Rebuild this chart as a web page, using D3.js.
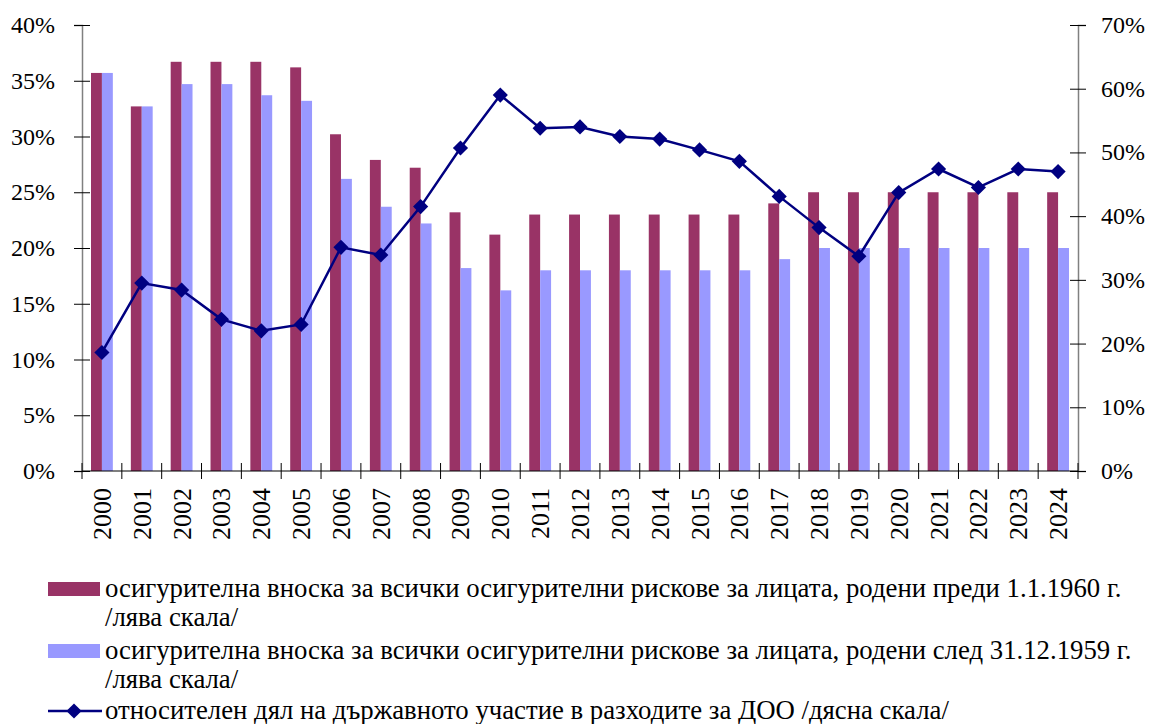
<!DOCTYPE html>
<html>
<head>
<meta charset="utf-8">
<script src="https://cdn.jsdelivr.net/npm/d3@7"></script>
</head>
<body style="margin:0">
<script>
// data (percent)
const years = ['2000','2001','2002','2003','2004','2005','2006','2007','2008','2009','2010','2011','2012',
  '2013','2014','2015','2016','2017','2018','2019','2020','2021','2022','2023','2024'];
const bornBefore1960 = [35.7, 32.7, 36.7, 36.7, 36.7, 36.2, 30.2, 27.9, 27.2, 23.2, 21.2, 23, 23,
  23, 23, 23, 23, 24, 25, 25, 25, 25, 25, 25, 25];
const bornAfter1959 = [35.7, 32.7, 34.7, 34.7, 33.7, 33.2, 26.2, 23.7, 22.2, 18.2, 16.2, 18, 18,
  18, 18, 18, 18, 19, 20, 20, 20, 20, 20, 20, 20];
const stateShare = [18.6, 29.5, 28.4, 23.8, 22.0, 23.0, 35.1, 33.9, 41.5, 50.7, 59.0, 53.8, 54.0,
  52.5, 52.1, 50.4, 48.6, 43.1, 38.2, 33.7, 43.7, 47.4, 44.5, 47.4, 47.0];
const leftTicks = [0, 5, 10, 15, 20, 25, 30, 35, 40];
const rightTicks = [0, 10, 20, 30, 40, 50, 60, 70];
const legendLabels = [
  ['осигурителна вноска за всички осигурителни рискове за лицата, родени преди 1.1.1960 г.', '/лява скала/'],
  ['осигурителна вноска за всички осигурителни рискове за лицата, родени след 31.12.1959 г.', '/лява скала/'],
  ['относителен дял на държавното участие в разходите за ДОО /дясна скала/']
];

const W = 1150, H = 724;
const plot = { left: 82, right: 1078, top: 25, bottom: 471 };
const colBefore = '#993366', colAfter = '#9999FF', colLine = '#000080';
const serifFont = () => '"Liberation Serif"';

const svg = d3.select('body').append('svg')
    .attr('width', W)
    .attr('height', H);

// scales
const x = d3.scaleBand().domain(years).range([plot.left, plot.right]);
const xInner = d3.scaleBand().domain(['before', 'after'])
    .range([9, x.bandwidth() - 9]);
const yLeft = d3.scaleLinear().domain([0, 40]).range([plot.bottom, plot.top]);
const yRight = d3.scaleLinear().domain([0, 70]).range([plot.bottom, plot.top]);

const rows = years.map((y, i) => ({ year: y, before: bornBefore1960[i], after: bornAfter1959[i], share: stateShare[i] }));

// bars
const barG = svg.append('g');
barG.selectAll('.bar-before')
  .data(rows)
  .join('rect')
    .attr('class', 'bar-before')
    .attr('x', d => x(d.year) + xInner('before'))
    .attr('width', xInner.bandwidth())
    .attr('y', d => yLeft(d.before))
    .attr('height', d => yLeft(0) - yLeft(d.before))
    .attr('fill', colBefore);
barG.selectAll('.bar-after')
  .data(rows)
  .join('rect')
    .attr('class', 'bar-after')
    .attr('x', d => x(d.year) + xInner('after'))
    .attr('width', xInner.bandwidth())
    .attr('y', d => yLeft(d.after))
    .attr('height', d => yLeft(0) - yLeft(d.after))
    .attr('fill', colAfter);

// axes: ticks drawn by d3, labels written as own texts
const pct = d => d + '%';

const leftAxis = svg.append('g')
    .attr('transform', `translate(${plot.left},0)`)
    .call(d3.axisLeft(yLeft).tickValues(leftTicks).tickFormat('').tickSize(8));
leftAxis.selectAll('.tick line').attr('x1', 8).attr('stroke', '#000');
leftAxis.select('.domain').attr('stroke', '#808080').attr('stroke-width', 1.5);

const rightAxis = svg.append('g')
    .attr('transform', `translate(${plot.right},0)`)
    .call(d3.axisRight(yRight).tickValues(rightTicks).tickFormat('').tickSize(8));
rightAxis.selectAll('.tick line').attr('x1', -8).attr('stroke', '#000');
rightAxis.select('.domain').attr('stroke', '#808080').attr('stroke-width', 1.5);

svg.selectAll('.ylabel-left')
  .data(leftTicks)
  .join('text')
    .attr('class', 'ylabel-left')
    .attr('x', plot.left - 27)
    .attr('y', d => yLeft(d) + 8)
    .attr('text-anchor', 'end')
    .attr('font-size', 24)
    .style('font-family', serifFont)
    .text(pct);

svg.selectAll('.ylabel-right')
  .data(rightTicks)
  .join('text')
    .attr('class', 'ylabel-right')
    .attr('x', plot.right + 23)
    .attr('y', d => yRight(d) + 8)
    .attr('font-size', 24)
    .style('font-family', serifFont)
    .text(pct);

// x axis: ticks on band edges, labels rotated
const xAxis = svg.append('g')
    .attr('transform', `translate(0,${plot.bottom})`);
xAxis.append('line')
    .attr('x1', plot.left).attr('x2', plot.right)
    .attr('stroke', '#000').attr('stroke-width', 1.2);
xAxis.selectAll('.xtick')
  .data(years.concat(['end']))
  .join('line')
    .attr('class', 'xtick')
    .attr('x1', (d, i) => i < years.length ? x(d) : plot.right)
    .attr('x2', (d, i) => i < years.length ? x(d) : plot.right)
    .attr('y1', -8).attr('y2', 8)
    .attr('stroke', '#000');
svg.selectAll('.xlabel')
  .data(years)
  .join('text')
    .attr('class', 'xlabel')
    .attr('transform', d => `translate(${x(d) + x.bandwidth() / 2 + 9},${plot.bottom + 17}) rotate(-90)`)
    .attr('text-anchor', 'end')
    .attr('font-size', 26)
    .style('font-family', serifFont)
    .text(d => d);

// line on right scale
const cx = d => x(d.year) + x.bandwidth() / 2;
const line = d3.line()
    .x(cx)
    .y(d => yRight(d.share));
svg.append('path')
    .datum(rows)
    .attr('d', line)
    .attr('fill', 'none')
    .attr('stroke', colLine)
    .attr('stroke-width', 2.5);

const diamond = d3.symbol().type(d3.symbolSquare).size(115);
svg.selectAll('.marker')
  .data(rows)
  .join('path')
    .attr('class', 'marker')
    .attr('d', diamond)
    .attr('transform', d => `translate(${cx(d)},${yRight(d.share)}) rotate(45)`)
    .attr('fill', colLine);

// legend
const legendY = [589, 651, 711];
const legendColors = [colBefore, colAfter];

legendColors.forEach((c, i) => {
  svg.append('rect')
      .attr('x', 48).attr('y', legendY[i] - 7)
      .attr('width', 52).attr('height', 14)
      .attr('fill', c);
});
svg.append('line')
    .attr('x1', 48).attr('x2', 102)
    .attr('y1', legendY[2]).attr('y2', legendY[2])
    .attr('stroke', colLine).attr('stroke-width', 2.5);
svg.append('path')
    .attr('d', diamond)
    .attr('transform', `translate(74,${legendY[2]}) rotate(45)`)
    .attr('fill', colLine);

const legendRows = [];
legendLabels.forEach((lines, i) => {
  lines.forEach((s, j) => legendRows.push({ text: s, y: legendY[i] + 8 + j * 29 }));
});
const legendText = svg.selectAll('.legend-text')
  .data(legendRows)
  .join('text')
    .attr('class', 'legend-text')
    .attr('x', 105)
    .attr('y', d => d.y)
    .attr('font-size', 24)
    .style('font-family', serifFont)
    .text(d => d.text);

// fit the first legend line to the width it has in the picture
const firstLen = legendText.node().getComputedTextLength();
if (firstLen > 0) {
  const fs = Math.min(28, 24 * 1017 / firstLen);
  legendText.attr('font-size', fs);
}
</script>
</body>
</html>
